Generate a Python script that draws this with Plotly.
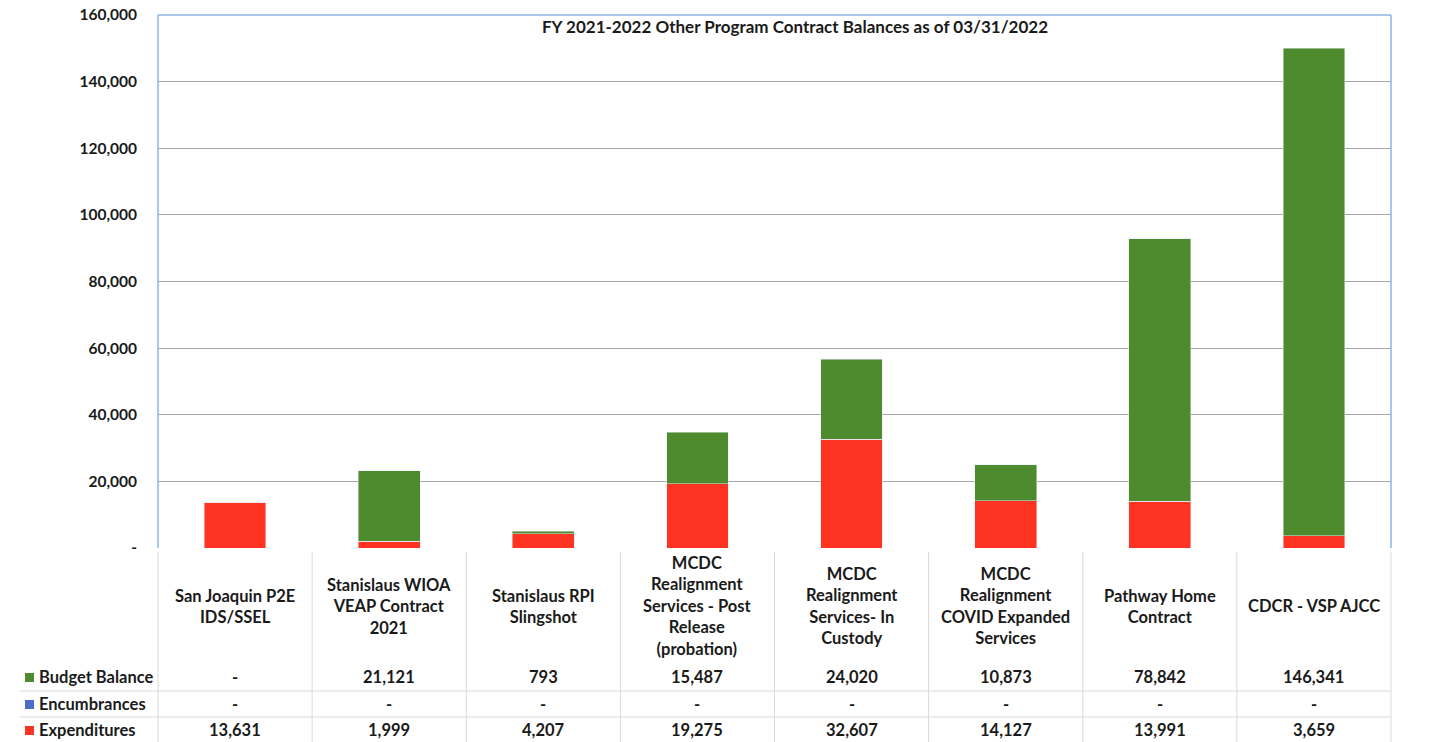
import plotly.graph_objects as go

# the page body has an 8px margin: the figure starts at (8, 8) in the window,
# so it is sized to end at the window edge and positions are given in window pixels
PAGE_W, PAGE_H = 1445, 742
OFF = 8
W, H = PAGE_W - OFF, PAGE_H - OFF

categories = [
    'San Joaquin P2E<br>IDS/SSEL',
    'Stanislaus WIOA<br>VEAP Contract<br>2021',
    'Stanislaus RPI<br>Slingshot',
    'MCDC<br>Realignment<br>Services - Post<br>Release<br>(probation)',
    'MCDC<br>Realignment<br>Services- In<br>Custody',
    'MCDC<br>Realignment<br>COVID Expanded<br>Services',
    'Pathway Home<br>Contract',
    'CDCR - VSP AJCC',
]
budget_balance = [0, 21121, 793, 15487, 24020, 10873, 78842, 146341]
encumbrances = [0, 0, 0, 0, 0, 0, 0, 0]
expenditures = [13631, 1999, 4207, 19275, 32607, 14127, 13991, 3659]

y_ticks = [0, 20000, 40000, 60000, 80000, 100000, 120000, 140000, 160000]

green = '#4e8a2e'
blue = '#4a6fc4'
red = '#ff3322'
font_family = 'Lato, Open Sans, sans-serif'
text_color = '#1a1a1a'


def px_x(v):
    return (v - OFF) / W


def px_y(v):
    return 1 - (v - OFF) / H


def fmt(v):
    return '-' if v == 0 else '{:,}'.format(v)


x_left, x_right = 158, 1391
y_top, y_zero = 15, 548

fig = go.Figure()
fig.add_trace(go.Bar(name='Expenditures', x=categories, y=expenditures, marker_color=red, width=0.4))
fig.add_trace(go.Bar(name='Encumbrances', x=categories, y=encumbrances, marker_color=blue, width=0.4))
fig.add_trace(go.Bar(name='Budget Balance', x=categories, y=budget_balance, marker_color=green, width=0.4))

fig.update_layout(
    width=W, height=H,
    margin=dict(l=0, r=0, t=0, b=0, autoexpand=False),
    barmode='stack',
    showlegend=False,
    paper_bgcolor='white',
    plot_bgcolor='white',
    font=dict(family=font_family, size=16.5, color=text_color),
    xaxis=dict(domain=[px_x(x_left), px_x(x_right)], range=[-0.5, 7.5], automargin=False,
               showticklabels=False, showgrid=False, zeroline=False, showline=False),
    yaxis=dict(domain=[px_y(y_zero), px_y(y_top)], range=[0, 160000], automargin=False,
               tickvals=y_ticks, ticktext=[fmt(v) for v in y_ticks],
               tickfont=dict(family=font_family, size=15.5, color=text_color, weight='bold'),
               ticklabelstandoff=20, ticklabeloverflow='allow',
               showgrid=True, gridcolor='#a6a6a6', gridwidth=1,
               zeroline=False, showline=False),
)

# plot frame (left, top, right)
frame = dict(type='line', xref='paper', yref='paper', line=dict(color='#8db4e2', width=1.5))
fig.add_shape(frame, x0=px_x(x_left), x1=px_x(x_left), y0=px_y(y_zero), y1=px_y(y_top))
fig.add_shape(frame, x0=px_x(x_left), x1=px_x(x_right), y0=px_y(y_top), y1=px_y(y_top))
fig.add_shape(frame, x0=px_x(x_right), x1=px_x(x_right), y0=px_y(y_zero), y1=px_y(y_top))

fig.add_annotation(x=px_x(795), y=px_y(27), xref='paper', yref='paper', showarrow=False,
                   text='<b>FY 2021-2022 Other Program Contract Balances as of 03/31/2022</b>',
                   font=dict(size=17, color=text_color), xanchor='center', yanchor='middle')

# data table grid
grid = dict(type='line', xref='paper', yref='paper', line=dict(color='#d9d9d9', width=1))
col_w = (x_right - x_left) / len(categories)
for i in range(len(categories) + 1):
    xx = x_left + i * col_w
    fig.add_shape(grid, x0=px_x(xx), x1=px_x(xx), y0=px_y(552), y1=px_y(742))
for yy in [691, 717]:
    fig.add_shape(grid, x0=px_x(20), x1=px_x(x_right), y0=px_y(yy), y1=px_y(yy))

# category labels
for c in categories:
    fig.add_annotation(x=c, y=px_y(606), xref='x', yref='paper', showarrow=False, text='<b>' + c + '</b>',
                       font=dict(size=16.5, color=text_color), align='center', yanchor='middle')

rows = [('Budget Balance', budget_balance, green, 677),
        ('Encumbrances', encumbrances, blue, 704),
        ('Expenditures', expenditures, red, 730)]
for name, vals, col, yy in rows:
    fig.add_shape(type='rect', xref='paper', yref='paper', fillcolor=col, line=dict(width=0),
                  x0=px_x(25), x1=px_x(34), y0=px_y(yy + 5), y1=px_y(yy - 4))
    fig.add_annotation(x=px_x(37), y=px_y(yy), xref='paper', yref='paper', showarrow=False,
                       text='<b>' + name + '</b>', font=dict(size=16.5, color=text_color),
                       xanchor='left', yanchor='middle')
    for c, v in zip(categories, vals):
        fig.add_annotation(x=c, y=px_y(yy), xref='x', yref='paper', showarrow=False,
                           text='<b>' + fmt(v) + '</b>', font=dict(size=16.5, color=text_color),
                           yanchor='middle')

fig.write_html('out.html')
